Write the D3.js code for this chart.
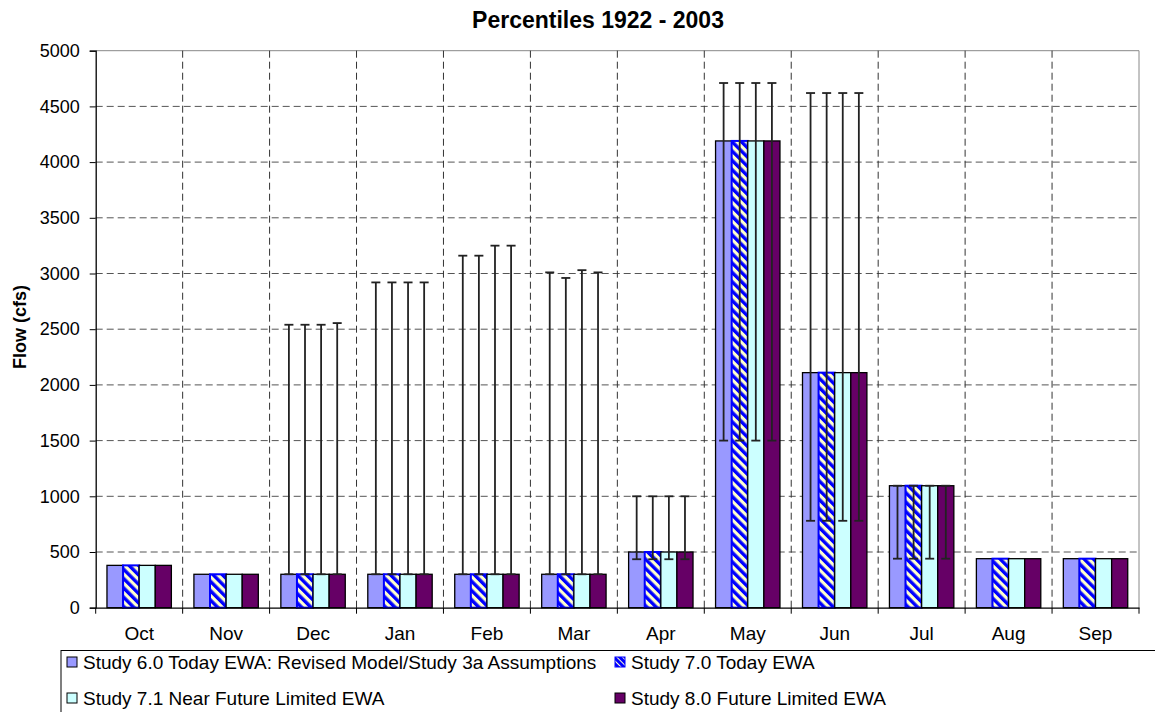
<!DOCTYPE html>
<html><head><meta charset="utf-8">
<script src="https://cdn.jsdelivr.net/npm/d3@7/dist/d3.min.js"></script>
<style>body{margin:0;background:#fff;} text{font-family:"Liberation Sans",Arial,sans-serif;}</style>
</head><body>
<svg id="c" width="1155" height="712"></svg>
<script>
const months = ["Oct","Nov","Dec","Jan","Feb","Mar","Apr","May","Jun","Jul","Aug","Sep"];
const seriesNames = ["Study 6.0 Today EWA: Revised Model/Study 3a Assumptions","Study 7.0 Today EWA","Study 7.1 Near Future Limited EWA","Study 8.0 Future Limited EWA"];
const yTicks = [0,500,1000,1500,2000,2500,3000,3500,4000,4500,5000];
// bar values (median)
const s60 = [380,300,300,300,300,300,500,4190,2110,1095,440,440];
const s70 = [380,300,300,300,300,300,500,4190,2110,1095,440,440];
const s71 = [380,300,300,300,300,300,500,4190,2110,1095,440,440];
const s80 = [380,300,300,300,300,300,500,4190,2110,1095,440,440];
// error bar upper ends (null = none)
const up60 = [null,null,2540,2920,3160,3010,1000,4710,4620,1095,null,null];
const up70 = [null,null,2540,2920,3160,2960,1000,4710,4620,1095,null,null];
const up71 = [null,null,2540,2920,3250,3030,1000,4710,4620,1095,null,null];
const up80 = [null,null,2555,2920,3250,3010,1000,4710,4620,1095,null,null];
// error bar lower ends
const lo60 = [null,null,300,300,300,300,435,1500,780,440,null,null];
const lo70 = [null,null,300,300,300,300,435,1500,780,440,null,null];
const lo71 = [null,null,300,300,300,300,435,1500,780,440,null,null];
const lo80 = [null,null,300,300,300,300,435,1500,780,440,null,null];

const vals = [s60,s70,s71,s80], ups=[up60,up70,up71,up80], los=[lo60,lo70,lo71,lo80];
const fills = ["#9999FF","url(#stripe)","#CCFFFF","#660066"];
const strokes = ["#000","#0000FF","#000","#000"];

const svg = d3.select("#c");
const defs = svg.append("defs");
const pat = defs.append("pattern").attr("id","stripe").attr("patternUnits","userSpaceOnUse")
  .attr("width",6.6).attr("height",6.6).attr("patternTransform","rotate(-45)");
pat.append("rect").attr("width",6.6).attr("height",6.6).attr("fill","#FFFFCC");
pat.append("rect").attr("width",3.4).attr("height",6.6).attr("fill","#0000FF");
const pat2 = defs.append("pattern").attr("id","stripeL").attr("patternUnits","userSpaceOnUse")
  .attr("width",4).attr("height",4).attr("patternTransform","rotate(-45)");
pat2.append("rect").attr("width",4).attr("height",4).attr("fill","#FFFFCC");
pat2.append("rect").attr("width",3).attr("height",4).attr("fill","#0000FF");

const L=95.7, R=1139, T=50.7, B=607.7;
const x0 = d3.scaleBand().domain(months).range([L,R]).padding(0);
const x1 = d3.scaleBand().domain(d3.range(4)).range([0,x0.bandwidth()]).paddingInner(0).paddingOuter(0.7);
const y = d3.scaleLinear().domain([0,5000]).range([B,T]);

// plot border (top/right gray)
svg.append("path").attr("d",`M${L},${T}H${R}V${B}`).attr("fill","none").attr("stroke","#888").attr("stroke-width",1);
// horizontal grid
svg.append("g").selectAll("line").data(yTicks.filter(d=>d>0&&d<5000)).join("line")
  .attr("x1",L).attr("x2",R).attr("y1",d=>y(d)).attr("y2",d=>y(d))
  .attr("stroke","#555").attr("stroke-dasharray","7,4");
// vertical grid
svg.append("g").selectAll("line").data(months.slice(1)).join("line")
  .attr("x1",d=>x0(d)).attr("x2",d=>x0(d)).attr("y1",T).attr("y2",B)
  .attr("stroke","#333").attr("stroke-dasharray","7,4");

// bars
const g = svg.append("g");
months.forEach((m,i)=>{
  for(let s=0;s<4;s++){
    const v = vals[s][i];
    g.append("rect").attr("x",x0(m)+x1(s)).attr("width",x1.bandwidth())
      .attr("y",y(v)).attr("height",y(0)-y(v))
      .attr("fill",fills[s]).attr("stroke",strokes[s]).attr("stroke-width",s===1?2:1.3);
  }
});
// error bars
const eg = svg.append("g").attr("stroke","#222").attr("stroke-width",1.8);
months.forEach((m,i)=>{
  for(let s=0;s<4;s++){
    const u=ups[s][i], lo=los[s][i];
    if(u==null) continue;
    const cx = x0(m)+x1(s)+x1.bandwidth()/2;
    eg.append("line").attr("x1",cx).attr("x2",cx).attr("y1",y(lo)).attr("y2",y(u));
    eg.append("line").attr("x1",cx-4.5).attr("x2",cx+4.5).attr("y1",y(u)).attr("y2",y(u));
    eg.append("line").attr("x1",cx-4.5).attr("x2",cx+4.5).attr("y1",y(lo)).attr("y2",y(lo));
  }
});

// axes
const ya = svg.append("g").attr("transform",`translate(${L},0)`)
  .call(d3.axisLeft(y).tickValues(yTicks).tickSize(6).tickPadding(10).tickFormat(d3.format("d")));
ya.select(".domain").attr("stroke","#000").attr("stroke-width",1.3);
ya.selectAll(".tick line").attr("stroke","#000");
ya.selectAll("text").attr("font-size",18).attr("fill","#000").attr("font-family","Liberation Sans, Arial");

const xa = svg.append("g").attr("transform",`translate(0,${B})`)
  .call(d3.axisBottom(x0).tickSize(0).tickPadding(19));
xa.select(".domain").attr("stroke","#000").attr("stroke-width",1.3);
xa.selectAll("text").attr("font-size",19).attr("fill","#000").attr("font-family","Liberation Sans, Arial");
// x ticks at category boundaries
svg.append("g").selectAll("line").data(months.concat(["end"])).join("line")
  .attr("x1",(d,i)=>L+i*x0.step()).attr("x2",(d,i)=>L+i*x0.step())
  .attr("y1",B).attr("y2",B+6).attr("stroke","#000");

// titles
svg.append("text").attr("x",598).attr("y",28).attr("text-anchor","middle")
  .attr("font-size",23).attr("font-weight","bold").text("Percentiles 1922 - 2003");
svg.append("text").attr("transform",`translate(26,327) rotate(-90)`).attr("text-anchor","middle")
  .attr("font-size",18).attr("font-weight","bold").text("Flow (cfs)");

// legend
const lg = svg.append("g");
lg.append("rect").attr("x",61).attr("y",650.5).attr("width",1110).attr("height",80)
  .attr("fill","#fff").attr("stroke","#000").attr("stroke-width",1);
const lpos = [[67,657,83,669],[615,657,631,669],[67,693,83,705],[615,693,631,705]];
seriesNames.forEach((n,s)=>{
  const p=lpos[s];
  lg.append("rect").attr("x",p[0]).attr("y",p[1]).attr("width",10).attr("height",10)
    .attr("fill",s===1?"url(#stripeL)":fills[s]).attr("stroke",s===1?"#0000FF":"#000").attr("stroke-width",1);
  lg.append("text").attr("x",p[2]).attr("y",p[3]).attr("font-size",19).text(n);
});
</script>
</body></html>
